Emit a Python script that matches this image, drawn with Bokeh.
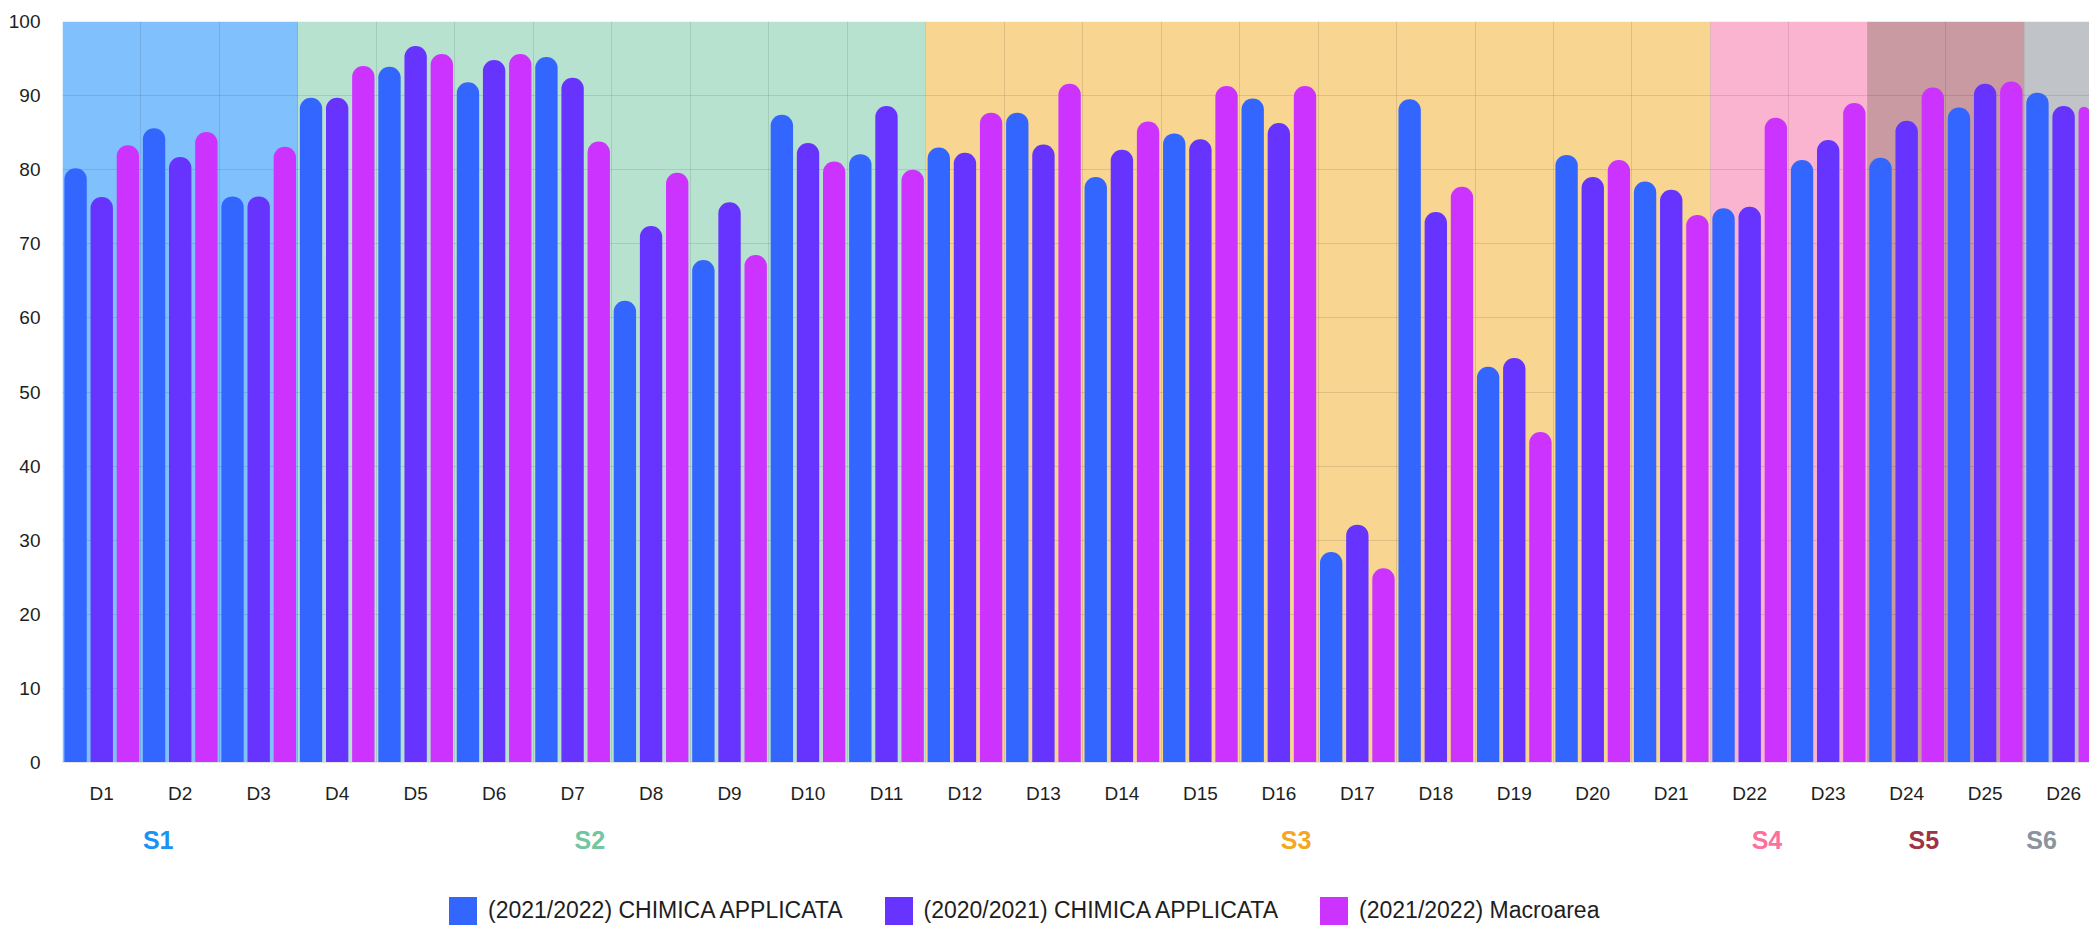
import numpy as np
from bokeh.plotting import figure
from bokeh.layouts import column
from bokeh.models import (Range1d, FixedTicker, BoxAnnotation, Legend, LegendItem,
                          ColumnDataSource)
from bokeh.core.properties import value
from bokeh.embed import file_html
from bokeh.resources import INLINE

# ---------------- data ----------------
categories = ["D1", "D2", "D3", "D4", "D5", "D6", "D7", "D8", "D9", "D10", "D11", "D12", "D13",
              "D14", "D15", "D16", "D17", "D18", "D19", "D20", "D21", "D22", "D23", "D24", "D25", "D26"]

series_names = ["(2021/2022) CHIMICA APPLICATA", "(2020/2021) CHIMICA APPLICATA", "(2021/2022) Macroarea"]

chim_2122 = [80.2, 85.6, 76.4, 89.7, 93.9, 91.8, 95.2, 62.3, 67.8, 87.4, 82.1, 83.0, 87.7,
             79.0, 84.9, 89.6, 28.4, 89.5, 53.4, 82.0, 78.4, 74.8, 81.3, 81.6, 88.4, 90.4]
chim_2021 = [76.3, 81.7, 76.4, 89.7, 96.7, 94.8, 92.4, 72.4, 75.6, 83.6, 88.6, 82.3, 83.4,
             82.7, 84.1, 86.3, 32.1, 74.3, 54.6, 79.0, 77.3, 75.0, 84.0, 86.6, 91.6, 88.6]
macro_2122 = [83.3, 85.1, 83.1, 94.0, 95.6, 95.6, 83.8, 79.6, 68.5, 81.1, 80.0, 87.7, 91.6,
              86.5, 91.3, 91.3, 26.2, 77.7, 44.6, 81.3, 73.9, 87.0, 89.0, 91.1, 91.9, 88.5]

groups = ["S1", "S2", "S3", "S4", "S5", "S6"]
group_sizes = [3, 8, 10, 2, 2, 1]

bar_colors = ["#3366ff", "#6633ff", "#cc33ff"]
band_colors = ["#80c1fd", "#b8e2d0", "#f8d591", "#fab4cf", "#c99aa1", "#c0c3c8"]
group_label_colors = ["#1a93f2", "#72c6a0", "#f5a623", "#ff6f9c", "#9e3546", "#8a939e"]

FONT = "Liberation Sans"
W = 2089

# ---------------- main chart ----------------
n = len(categories)
xr = Range1d(0, 25.83)
p = figure(width=W, height=806, output_backend="svg", toolbar_location=None,
           x_range=xr, y_range=Range1d(0, 100),
           min_border_left=62, min_border_right=0, min_border_top=21, min_border_bottom=40)
p.outline_line_color = None

edges = np.concatenate([[0], np.cumsum(group_sizes)])
for i, g in enumerate(groups):
    p.add_layout(BoxAnnotation(left=float(edges[i]), right=float(edges[i + 1]),
                               fill_color=band_colors[i], fill_alpha=1.0,
                               line_color=None, level="image"))

p.ygrid.ticker = FixedTicker(ticks=list(range(0, 101, 10)))
p.xgrid.ticker = FixedTicker(ticks=[float(v) for v in np.arange(1, n)])
p.xgrid.grid_line_color = "black"
p.xgrid.grid_line_alpha = 0.1
p.ygrid.grid_line_color = "black"
p.ygrid.grid_line_alpha = 0.1

centers = np.arange(n) + 0.5
renderers = []
for k, (vals, col) in enumerate(zip([chim_2122, chim_2021, macro_2122], bar_colors)):
    src = ColumnDataSource(dict(x=centers + (k - 1) / 3.0, top=vals))
    r = p.vbar(x="x", top="top", bottom=0, width=0.285, source=src,
               fill_color=col, line_color=None, border_radius=(11, 11, 0, 0))
    renderers.append(r)

p.xaxis.ticker = FixedTicker(ticks=list(centers))
p.xaxis.major_label_overrides = {float(c): lab for c, lab in zip(centers, categories)}
p.xaxis.major_tick_line_color = None
p.xaxis.minor_tick_line_color = None
p.xaxis.axis_line_color = "#e4e4e4"
p.xaxis.major_label_standoff = 14
p.xaxis.major_label_text_font = FONT
p.xaxis.major_label_text_font_size = "19px"
p.xaxis.major_label_text_color = "#1e1e1e"

p.yaxis.ticker = FixedTicker(ticks=list(range(0, 101, 10)))
p.yaxis.major_tick_line_color = None
p.yaxis.minor_tick_line_color = None
p.yaxis.axis_line_color = None
p.yaxis.major_label_standoff = 16
p.yaxis.major_label_text_font = FONT
p.yaxis.major_label_text_font_size = "19px"
p.yaxis.major_label_text_color = "#1e1e1e"

# ---------------- group labels + legend strip ----------------
H2 = 122
q = figure(width=W, height=H2, output_backend="svg", toolbar_location=None,
           x_range=xr, y_range=Range1d(0, H2), x_axis_type=None, y_axis_type=None,
           min_border_left=62, min_border_right=0, min_border_top=0, min_border_bottom=0)
q.outline_line_color = None
q.xgrid.visible = False
q.ygrid.visible = False

gsrc = ColumnDataSource(dict(x=[(edges[i] + edges[i + 1]) / 2.0 for i in range(len(groups))],
                             y=[H2 - 33] * len(groups), text=groups, color=group_label_colors))
q.text(x="x", y="y", text="text", source=gsrc, text_color="color",
       text_font=value(FONT), text_font_size="25px", text_font_style="bold",
       text_align="center", text_baseline="middle", x_offset=-22)

# zero-height proxy bars, used only for the legend swatches
proxies = []
for col in bar_colors:
    proxies.append(q.vbar(x=[centers[0]], top=[0], bottom=[0], width=0.285,
                          fill_color=col, line_color=None))

legend = Legend(items=[LegendItem(label=nm, renderers=[r]) for nm, r in zip(series_names, proxies)],
                location=(383, 0), orientation="horizontal",
                glyph_width=35, glyph_height=35, label_standoff=8, spacing=38, padding=0,
                label_text_font=FONT, label_text_font_size="23px", label_text_color="#1e1e1e",
                border_line_color=None, background_fill_alpha=0)
q.add_layout(legend)

layout = column(p, q, spacing=0)
open("out.html", "w").write(file_html(layout, INLINE))
